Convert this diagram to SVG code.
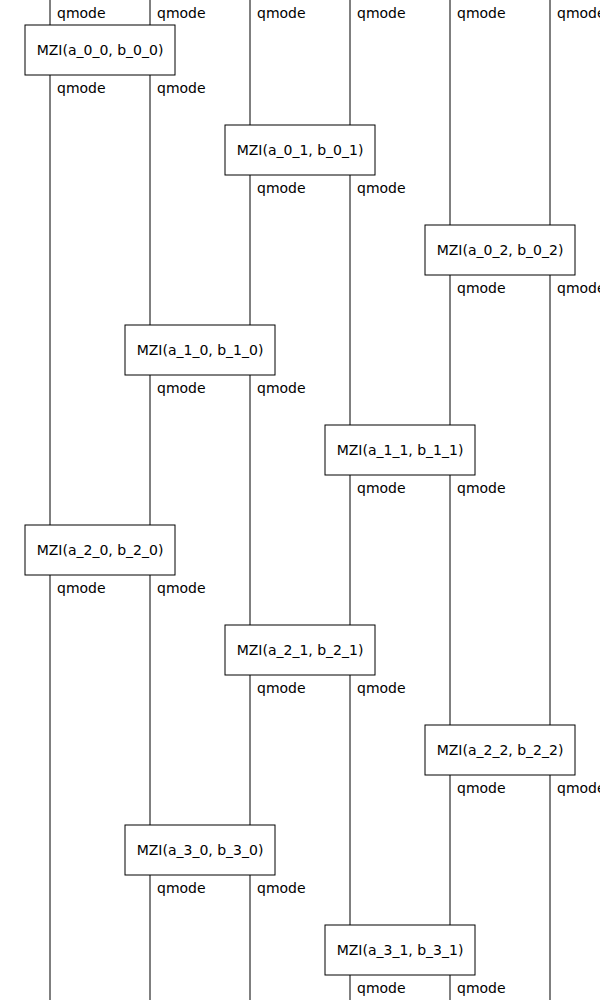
<svg xmlns="http://www.w3.org/2000/svg" width="600" height="1000" viewBox="0 0 600 1000">
  <style>
    .wire { stroke: #000; stroke-width: 1; fill: none; }
    .box { fill: #fff; stroke: #000; stroke-width: 1; }
    text { font-family: "DejaVu Sans", "Liberation Sans", sans-serif; font-size: 14px; fill: #000; }
    .gate { text-anchor: middle; }
  </style>
  <rect width="600" height="1000" fill="#fff"/>

  <!-- mode wires -->
  <g id="wires">
    <line class="wire" x1="50" y1="0" x2="50" y2="1000"/>
    <line class="wire" x1="150" y1="0" x2="150" y2="1000"/>
    <line class="wire" x1="250" y1="0" x2="250" y2="1000"/>
    <line class="wire" x1="350" y1="0" x2="350" y2="1000"/>
    <line class="wire" x1="450" y1="0" x2="450" y2="1000"/>
    <line class="wire" x1="550" y1="0" x2="550" y2="1000"/>
  </g>

  <!-- input labels -->
  <g id="inputs">
    <text x="57" y="18">qmode</text>
    <text x="157" y="18">qmode</text>
    <text x="257" y="18">qmode</text>
    <text x="357" y="18">qmode</text>
    <text x="457" y="18">qmode</text>
    <text x="557" y="18">qmode</text>
  </g>

  <g id="mzi_0_0">
    <rect class="box" x="25" y="25" width="150" height="50"/>
    <text class="gate" x="100" y="55">MZI(a_0_0, b_0_0)</text>
    <text x="57" y="93">qmode</text>
    <text x="157" y="93">qmode</text>
  </g>
  <g id="mzi_0_1">
    <rect class="box" x="225" y="125" width="150" height="50"/>
    <text class="gate" x="300" y="155">MZI(a_0_1, b_0_1)</text>
    <text x="257" y="193">qmode</text>
    <text x="357" y="193">qmode</text>
  </g>
  <g id="mzi_0_2">
    <rect class="box" x="425" y="225" width="150" height="50"/>
    <text class="gate" x="500" y="255">MZI(a_0_2, b_0_2)</text>
    <text x="457" y="293">qmode</text>
    <text x="557" y="293">qmode</text>
  </g>
  <g id="mzi_1_0">
    <rect class="box" x="125" y="325" width="150" height="50"/>
    <text class="gate" x="200" y="355">MZI(a_1_0, b_1_0)</text>
    <text x="157" y="393">qmode</text>
    <text x="257" y="393">qmode</text>
  </g>
  <g id="mzi_1_1">
    <rect class="box" x="325" y="425" width="150" height="50"/>
    <text class="gate" x="400" y="455">MZI(a_1_1, b_1_1)</text>
    <text x="357" y="493">qmode</text>
    <text x="457" y="493">qmode</text>
  </g>
  <g id="mzi_2_0">
    <rect class="box" x="25" y="525" width="150" height="50"/>
    <text class="gate" x="100" y="555">MZI(a_2_0, b_2_0)</text>
    <text x="57" y="593">qmode</text>
    <text x="157" y="593">qmode</text>
  </g>
  <g id="mzi_2_1">
    <rect class="box" x="225" y="625" width="150" height="50"/>
    <text class="gate" x="300" y="655">MZI(a_2_1, b_2_1)</text>
    <text x="257" y="693">qmode</text>
    <text x="357" y="693">qmode</text>
  </g>
  <g id="mzi_2_2">
    <rect class="box" x="425" y="725" width="150" height="50"/>
    <text class="gate" x="500" y="755">MZI(a_2_2, b_2_2)</text>
    <text x="457" y="793">qmode</text>
    <text x="557" y="793">qmode</text>
  </g>
  <g id="mzi_3_0">
    <rect class="box" x="125" y="825" width="150" height="50"/>
    <text class="gate" x="200" y="855">MZI(a_3_0, b_3_0)</text>
    <text x="157" y="893">qmode</text>
    <text x="257" y="893">qmode</text>
  </g>
  <g id="mzi_3_1">
    <rect class="box" x="325" y="925" width="150" height="50"/>
    <text class="gate" x="400" y="955">MZI(a_3_1, b_3_1)</text>
    <text x="357" y="993">qmode</text>
    <text x="457" y="993">qmode</text>
  </g>
</svg>
